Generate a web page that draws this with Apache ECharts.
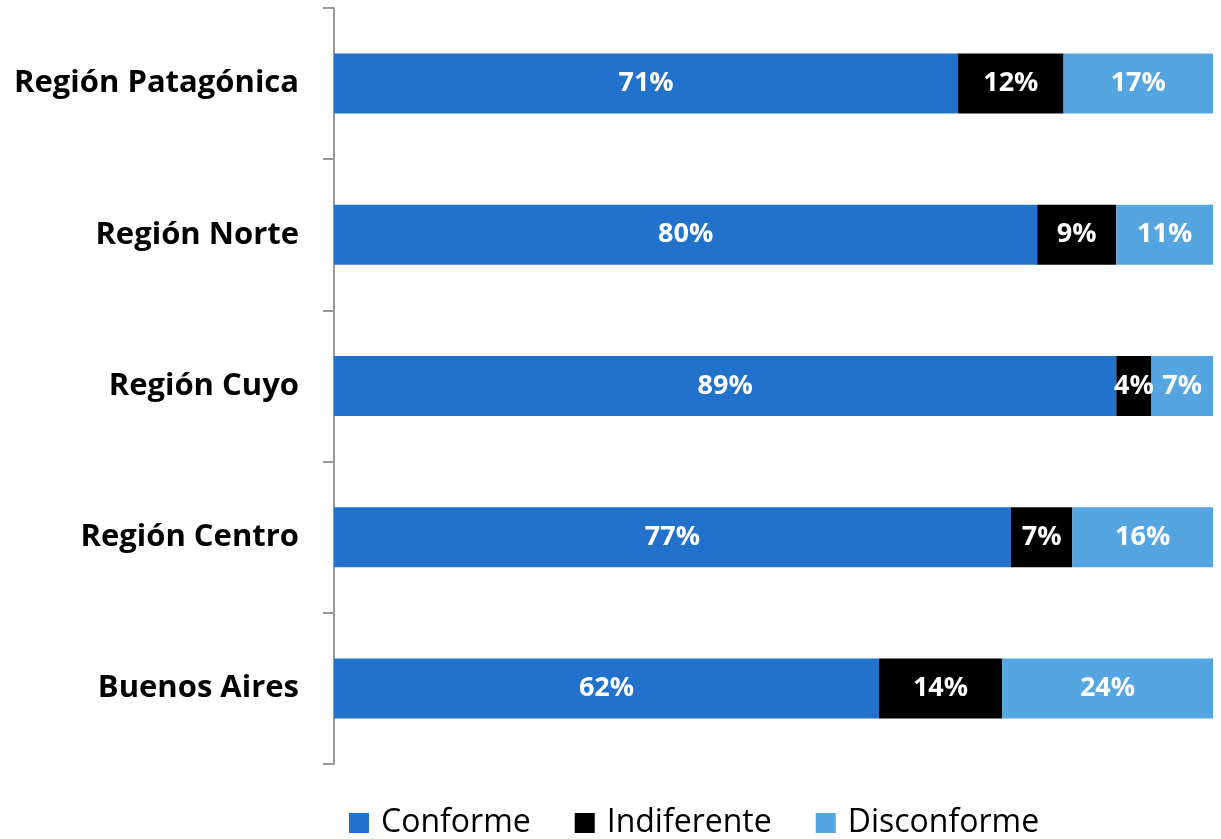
<!DOCTYPE html>
<html><head><meta charset="utf-8">
<script src="https://cdn.jsdelivr.net/npm/echarts@6/dist/echarts.min.js"></script>
<style>html,body{margin:0;padding:0;background:#fff}#c{width:1221px;height:839px}</style>
</head><body><div id="c"></div>
<script>
const categories = ['Buenos Aires', 'Región Centro', 'Región Cuyo', 'Región Norte', 'Región Patagónica'];
const conforme = [62, 77, 89, 80, 71];
const indiferente = [14, 7, 4, 9, 12];
const disconforme = [24, 16, 7, 11, 17];
const seriesNames = ['Conforme', 'Indiferente', 'Disconforme'];
const colors = ['#2272CC', '#000000', '#55A6E0'];

const chart = echarts.init(document.getElementById('c'));
const lbl = {show: true, position: 'inside', color: '#fff', fontWeight: 'bold', fontSize: 27,
  fontFamily: 'Open Sans', formatter: p => p.value + '%'};
const mk = (name, data, color) => ({
  name, type: 'bar', stack: 'all', data, barWidth: 60,
  itemStyle: {color}, label: lbl, emphasis: {disabled: true}
});
chart.setOption({
  animation: false,
  grid: {left: 334, right: 8, top: 8, bottom: 75, containLabel: false},
  xAxis: {type: 'value', min: 0, max: 100, show: false},
  yAxis: {type: 'category', data: categories,
    axisLine: {show: true, lineStyle: {color: '#999', width: 2}},
    axisTick: {show: true, length: 11, lineStyle: {color: '#999', width: 2}},
    axisLabel: {margin: 35, color: '#000', fontWeight: 'bold', fontSize: 31, fontFamily: 'Open Sans'}
  },
  legend: {bottom: -5, left: 344, itemWidth: 20, itemHeight: 20, itemGap: 44, icon: 'rect',
    textStyle: {fontSize: 32, color: '#000', fontFamily: 'Open Sans', padding: [0, 0, 0, 7]}, data: seriesNames},
  series: [mk(seriesNames[0], conforme, colors[0]), mk(seriesNames[1], indiferente, colors[1]), mk(seriesNames[2], disconforme, colors[2])]
});
</script></body></html>
